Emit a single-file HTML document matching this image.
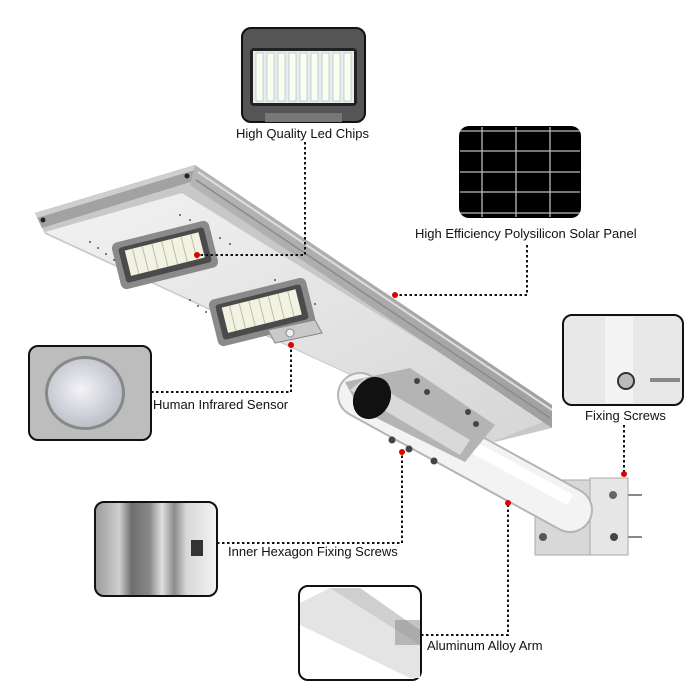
<!DOCTYPE html>
<html><head><style>
html,body{margin:0;padding:0;background:#fff;}
svg{display:block;}
text{font-family:"Liberation Sans",Arial,sans-serif;font-size:13px;fill:#111;}
</style></head><body>
<svg width="700" height="700" viewBox="0 0 700 700" xmlns="http://www.w3.org/2000/svg">
<defs>
<linearGradient id="rail" x1="0" y1="0" x2="1" y2="1">
<stop offset="0" stop-color="#b5b5b5"/><stop offset="1" stop-color="#a0a0a0"/></linearGradient>
<radialGradient id="dome" cx="0.45" cy="0.45" r="0.6"><stop offset="0" stop-color="#f4f4f8"/><stop offset="1" stop-color="#b8bcc4"/></radialGradient>
<linearGradient id="vstripe" x1="0" y1="0" x2="1" y2="0">
<stop offset="0" stop-color="#9a9a9a"/><stop offset="0.2" stop-color="#cfcfcf"/><stop offset="0.3" stop-color="#6e6e6e"/><stop offset="0.45" stop-color="#8a8a8a"/><stop offset="0.55" stop-color="#e0e0e0"/><stop offset="0.65" stop-color="#8a8a8a"/><stop offset="0.75" stop-color="#d8d8d8"/><stop offset="1" stop-color="#f4f4f4"/></linearGradient>
<linearGradient id="face" x1="0" y1="0" x2="1" y2="1">
<stop offset="0" stop-color="#f2f2f2"/><stop offset="1" stop-color="#d6d6d6"/></linearGradient>
</defs>

<!-- lamp body -->
<polygon points="35,213 195,165 552,405 552,428 495,442 45,234" fill="#c8c8c8"/>
<polygon points="45,232 182,193 548,420 494,441" fill="url(#face)"/>
<polygon points="35,213 195,165 197,180 42,228" fill="#a2a2a2"/>
<polygon points="35,213 195,165 195,170 37,218" fill="#cfcfcf"/>
<polygon points="195,165 552,405 552,428 190,185" fill="url(#rail)"/>
<line x1="198" y1="172" x2="552" y2="410" stroke="#dedede" stroke-width="2"/>
<line x1="196" y1="180" x2="550" y2="418" stroke="#8a8a8a" stroke-width="1.5"/>
<circle cx="43" cy="220" r="2.5" fill="#222"/><circle cx="187" cy="176" r="2.5" fill="#222"/>

<!-- dot grids -->
<g fill="#555">
<circle cx="90" cy="242" r="1"/><circle cx="98" cy="248" r="1"/><circle cx="106" cy="254" r="1"/><circle cx="114" cy="260" r="1"/><circle cx="122" cy="266" r="1"/><circle cx="130" cy="272" r="1"/><circle cx="138" cy="278" r="1"/>
<circle cx="180" cy="215" r="1"/><circle cx="190" cy="220" r="1"/><circle cx="200" cy="226" r="1"/><circle cx="210" cy="232" r="1"/><circle cx="220" cy="238" r="1"/><circle cx="230" cy="244" r="1"/>
<circle cx="190" cy="300" r="1"/><circle cx="198" cy="306" r="1"/><circle cx="206" cy="312" r="1"/><circle cx="214" cy="318" r="1"/>
<circle cx="275" cy="280" r="1"/><circle cx="285" cy="286" r="1"/><circle cx="295" cy="292" r="1"/><circle cx="305" cy="298" r="1"/><circle cx="315" cy="304" r="1"/>
</g>

<!-- LED module 1 -->
<g transform="translate(165,255) rotate(-14)">
<rect x="-50" y="-24" width="100" height="48" rx="6" fill="#8a8a8a"/>
<rect x="-44" y="-18" width="88" height="36" rx="3" fill="#4a4a4a"/>
<rect x="-38" y="-14" width="76" height="26" fill="#f2f2e2"/>
<g stroke="#bcbca8" stroke-width="1"><line x1="-30" y1="-14" x2="-30" y2="12"/><line x1="-20" y1="-14" x2="-20" y2="12"/><line x1="-10" y1="-14" x2="-10" y2="12"/><line x1="0" y1="-14" x2="0" y2="12"/><line x1="10" y1="-14" x2="10" y2="12"/><line x1="20" y1="-14" x2="20" y2="12"/><line x1="30" y1="-14" x2="30" y2="12"/></g>
</g>
<!-- LED module 2 -->
<g transform="translate(262,312) rotate(-14)">
<rect x="-50" y="-24" width="100" height="48" rx="6" fill="#8a8a8a"/>
<rect x="-44" y="-18" width="88" height="36" rx="3" fill="#4a4a4a"/>
<rect x="-38" y="-14" width="76" height="26" fill="#f2f2e2"/>
<g stroke="#bcbca8" stroke-width="1"><line x1="-30" y1="-14" x2="-30" y2="12"/><line x1="-20" y1="-14" x2="-20" y2="12"/><line x1="-10" y1="-14" x2="-10" y2="12"/><line x1="0" y1="-14" x2="0" y2="12"/><line x1="10" y1="-14" x2="10" y2="12"/><line x1="20" y1="-14" x2="20" y2="12"/><line x1="30" y1="-14" x2="30" y2="12"/></g>
</g>
<polygon points="268,330 315,320 322,333 275,343" fill="#c9c9c9" stroke="#888"/>
<circle cx="290" cy="333" r="4" fill="#eee" stroke="#888"/>

<!-- bracket -->
<rect x="535" y="480" width="93" height="75" fill="#d8d8d8" stroke="#aaa"/>
<rect x="590" y="478" width="38" height="77" fill="#e6e6e6" stroke="#aaa"/>
<line x1="628" y1="495" x2="642" y2="495" stroke="#888" stroke-width="2"/>
<line x1="628" y1="537" x2="642" y2="537" stroke="#888" stroke-width="2"/>
<circle cx="613" cy="495" r="4" fill="#666"/><circle cx="614" cy="537" r="4" fill="#444"/><circle cx="543" cy="537" r="4" fill="#555"/>

<!-- arm -->
<line x1="360" y1="395" x2="570" y2="510" stroke="#b5b5b5" stroke-width="46" stroke-linecap="round"/>
<line x1="360" y1="395" x2="570" y2="510" stroke="#f3f3f3" stroke-width="42" stroke-linecap="round"/>
<line x1="365" y1="388" x2="570" y2="500" stroke="#ffffff" stroke-width="12"/>
<!-- sleeve -->
<polygon points="345,382 410,368 495,425 465,462 360,410" fill="#b4b4b4"/>
<polygon points="350,390 460,455 470,440 365,378" fill="#d9d9d9"/>
<ellipse cx="372" cy="398" rx="18" ry="22" transform="rotate(30 372 398)" fill="#111"/>
<g fill="#444"><circle cx="417" cy="381" r="3"/><circle cx="427" cy="392" r="3"/><circle cx="468" cy="412" r="3"/><circle cx="476" cy="424" r="3"/><circle cx="392" cy="440" r="3.5"/><circle cx="409" cy="449" r="3.5"/><circle cx="434" cy="461" r="3.5"/></g>

<!-- insets -->
<rect x="242" y="28" width="123" height="94" rx="9" fill="#555" stroke="#111" stroke-width="2"/>
<rect x="250" y="48" width="107" height="58" rx="4" fill="#222"/>
<rect x="253" y="51" width="101" height="52" fill="#e6ecef"/>
<g fill="#f8fff0" stroke="#9aa" stroke-width="0.5">
<rect x="256" y="53" width="7" height="48"/><rect x="267" y="53" width="7" height="48"/><rect x="278" y="53" width="7" height="48"/><rect x="289" y="53" width="7" height="48"/><rect x="300" y="53" width="7" height="48"/><rect x="311" y="53" width="7" height="48"/><rect x="322" y="53" width="7" height="48"/><rect x="333" y="53" width="7" height="48"/><rect x="344" y="53" width="7" height="48"/>
</g>
<rect x="265" y="113" width="77" height="9" fill="#777"/>
<text x="236" y="138">High Quality Led Chips</text>

<rect x="459" y="126" width="122" height="92" rx="10" fill="#000"/>
<g stroke="#bbb" stroke-width="1.3">
<line x1="482" y1="127" x2="482" y2="217"/><line x1="516" y1="127" x2="516" y2="217"/><line x1="550" y1="127" x2="550" y2="217"/>
<line x1="460" y1="131" x2="580" y2="131"/><line x1="460" y1="151" x2="580" y2="151"/><line x1="460" y1="172" x2="580" y2="172"/><line x1="460" y1="192" x2="580" y2="192"/><line x1="460" y1="213" x2="580" y2="213"/>
</g>
<text x="415" y="238">High Efficiency Polysilicon Solar Panel</text>

<rect x="29" y="346" width="122" height="94" rx="9" fill="#bdbdbd" stroke="#111" stroke-width="2"/>
<ellipse cx="85" cy="393" rx="40" ry="37" fill="#888"/>
<ellipse cx="85" cy="393" rx="37" ry="34" fill="url(#dome)"/>
<text x="153" y="409">Human Infrared Sensor</text>

<rect x="563" y="315" width="120" height="90" rx="9" fill="#e8e8e8" stroke="#111" stroke-width="2"/>
<rect x="605" y="317" width="28" height="86" fill="#f4f4f4"/>
<circle cx="626" cy="381" r="8" fill="#bbb" stroke="#333" stroke-width="2"/>
<line x1="650" y1="380" x2="680" y2="380" stroke="#888" stroke-width="4"/>
<text x="585" y="420">Fixing Screws</text>

<rect x="95" y="502" width="122" height="94" rx="9" fill="url(#vstripe)" stroke="#111" stroke-width="2"/>
<rect x="191" y="540" width="12" height="16" fill="#333"/>
<text x="228" y="556">Inner Hexagon Fixing Screws</text>

<rect x="299" y="586" width="122" height="94" rx="9" fill="#fff" stroke="#111" stroke-width="2"/>
<polygon points="330,588 360,588 420,630 420,678 410,678 300,625 300,603" fill="#e4e4e4"/>
<polygon points="330,588 360,588 420,630 420,645" fill="#cfcfcf"/>
<rect x="395" y="620" width="25" height="25" fill="#888" opacity="0.5"/>
<text x="427" y="650">Aluminum Alloy Arm</text>

<g fill="none" stroke="#111" stroke-width="2" stroke-dasharray="2.5,2.5">
<polyline points="305,142 305,255 197,255"/>
<polyline points="527,245 527,295 395,295"/>
<polyline points="151,392 291,392 291,347"/>
<line x1="624" y1="425" x2="624" y2="472"/>
<polyline points="217,543 402,543 402,455"/>
<polyline points="421,635 508,635 508,505"/>
</g>
<g fill="#e00000">
<circle cx="197" cy="255" r="3"/><circle cx="395" cy="295" r="3"/><circle cx="291" cy="345" r="3"/>
<circle cx="624" cy="474" r="3"/><circle cx="402" cy="452" r="3"/><circle cx="508" cy="503" r="3"/>
</g>
</svg>
</body></html>
